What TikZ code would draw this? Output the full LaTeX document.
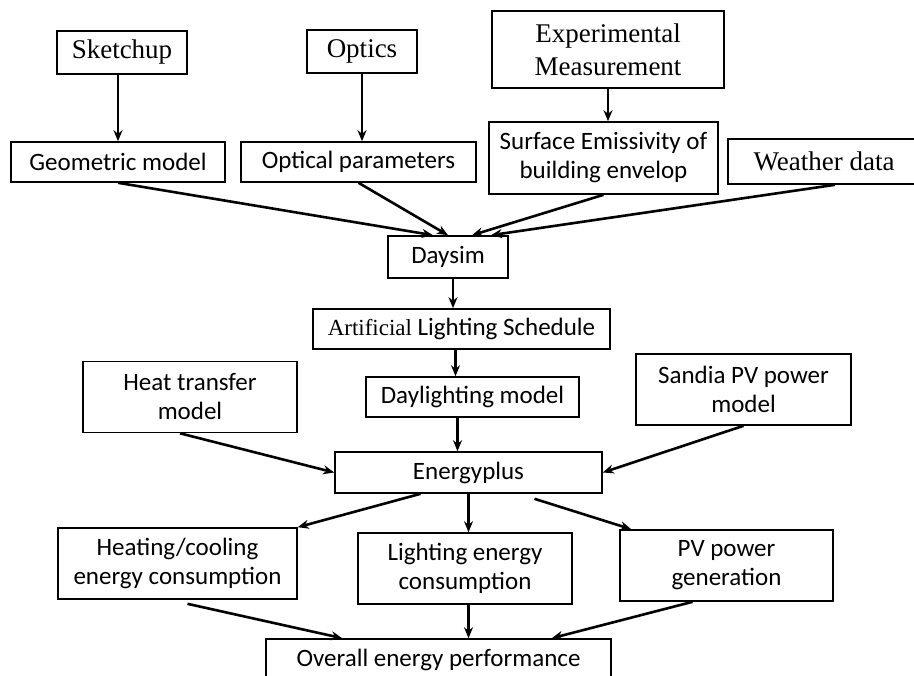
\documentclass[tikz,border=0pt]{standalone}
\usepackage{fontspec}
\setmainfont{Liberation Serif}
\newfontfamily\calibri{Carlito}
\usetikzlibrary{arrows.meta,positioning}

\begin{document}
\begin{tikzpicture}[
    node distance=10pt,
    module/.style={rectangle, draw, line width=0.8pt, inner sep=2pt, align=center, font=\calibri\fontsize{12.5}{14.5}\selectfont},
    source/.style={rectangle, draw, line width=0.8pt, inner sep=2pt, align=center, font=\fontsize{13.5}{16.5}\selectfont},
    arrow/.style={line width=1.3pt,->,>={Stealth[length=5.5pt,width=4.5pt]}}
]

\useasboundingbox (-224pt,128.5pt) rectangle (233pt,-209pt);

% Simulation chain
\node[module, minimum width=60pt, minimum height=21pt] (daysim) at (0,0) {Daysim};
\node[module, minimum width=148.5pt, minimum height=20pt, below=14.7pt of daysim, xshift=6.75pt] (schedule) {{\fontsize{11.5}{14}\rmfamily Artificial} Lighting Schedule};
\node[module, minimum width=106.5pt, minimum height=20pt, below=13.2pt of schedule, xshift=5.5pt] (daylight) {Daylighting model};
\node[module, minimum width=133.5pt, minimum height=20.5pt, below=16.7pt of daylight, xshift=-2pt] (energy) {Energyplus};
\node[module, minimum width=107pt, minimum height=35.5pt, below=19.2pt of energy, xshift=-1.75pt] (lighting) {Lighting energy\\consumption};
\node[module, minimum width=172.5pt, minimum height=21pt, below=16.7pt of lighting, xshift=-13.25pt] (overall) {Overall energy performance};

% Models
\node[module, minimum width=107pt, minimum height=35.5pt, left=33.7pt of daylight] (heat) {Heat transfer\\model};
\node[module, minimum width=107.5pt, minimum height=35.5pt, right=27.7pt of daylight, yshift=3.75pt] (sandia) {Sandia PV power\\model};

% Results
\node[module, minimum width=119.5pt, minimum height=35.5pt, left=29.7pt of lighting, yshift=2.5pt] (heating) {Heating/cooling\\energy consumption};
\node[module, minimum width=106.5pt, minimum height=35.5pt, right=23.2pt of lighting, yshift=1.5pt] (pv) {PV power\\generation};

% Inputs
\node[module, minimum width=107pt, minimum height=20pt, above left=26.2pt and 80.7pt of daysim] (geometric) {Geometric model};
\node[module, minimum width=117.5pt, minimum height=20pt, right=7.2pt of geometric] (optical) {Optical parameters};
\node[module, minimum width=114.5pt, minimum height=36pt, right=5.7pt of optical, yshift=2pt] (surface) {Surface Emissivity of\\building envelop};
\node[source, minimum width=96pt, minimum height=22.5pt, right=4.2pt of surface, yshift=-1.75pt] (weather) {Weather data};

% Tools
\node[source, minimum width=65pt, minimum height=21.5pt, above=33.2pt of geometric, xshift=2pt] (sketchup) {Sketchup};
\node[source, minimum width=55pt, minimum height=21.5pt, above=33.7pt of optical, xshift=1.75pt] (optics) {Optics};
\node[source, minimum width=116pt, minimum height=38.5pt, above=16.2pt of surface, xshift=2.25pt] (experiment) {Experimental\\Measurement};

% Arrows
\draw[arrow] (geometric.north |- sketchup.south) -- (geometric.north);
\draw[arrow] (optics.south) -- (optics.south |- optical.north);
\draw[arrow] (experiment.south) -- (experiment.south |- surface.north);
\draw[arrow] (geometric.south) -- ([xshift=-7.5pt]daysim.north);
\draw[arrow] (optical.south) -- (daysim.north);
\draw[arrow] (surface.south) -- ([xshift=12pt]daysim.north);
\draw[arrow] ([xshift=5.5pt]weather.south) -- ([xshift=21.5pt]daysim.north);
\draw[arrow] ([xshift=2.5pt]daysim.south) -- ([xshift=2.5pt]daysim.south |- schedule.north);
\draw[arrow] ([xshift=-3pt]schedule.south) -- ([xshift=-3pt]schedule.south |- daylight.north);
\draw[arrow] ([xshift=-7.5pt]daylight.south) -- ([xshift=-7.5pt]daylight.south |- energy.north);
\draw[arrow] ([xshift=-5pt]heat.south) -- (energy.west);
\draw[arrow] (sandia.south) -- (energy.east);
\draw[arrow] ([xshift=-24pt]energy.south) -- (heating.north east);
\draw[arrow] (energy.south) -- (energy.south |- lighting.north);
\draw[arrow] ([xshift=33pt,yshift=-2.5pt]energy.south) -- ([xshift=6pt]pv.north west);
\draw[arrow] ([xshift=5pt,yshift=-2pt]heating.south) -- ([xshift=38.5pt]overall.north west);
\draw[arrow] (energy.south |- lighting.south) -- (energy.south |- overall.north);
\draw[arrow] ([xshift=-17pt]pv.south) -- ([xshift=-30pt]overall.north east);

\end{tikzpicture}
\end{document}
